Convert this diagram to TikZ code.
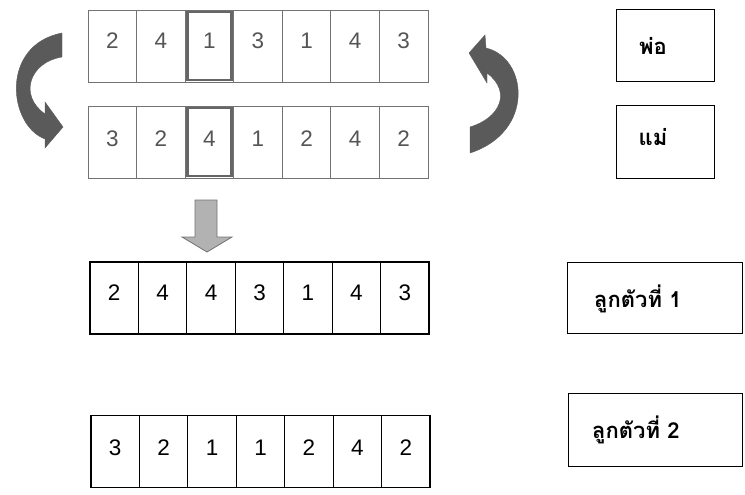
\documentclass[tikz,border=0pt]{standalone}
\usepackage{fontspec}
\setmainfont{Liberation Sans}
\newfontfamily\thaifont[Script=Thai]{Loma}
\definecolor{pgray}{HTML}{555555}
\definecolor{agray}{HTML}{5A5A5A}
\begin{document}
\begin{tikzpicture}[x=1pt,y=-1pt,
  pcell/.style={draw=black!55, line width=0.8pt, minimum width=48.57pt, minimum height=72pt, inner sep=0pt,
    text=pgray, font=\fontsize{22.5}{26}\selectfont},
  ccell/.style={draw=black, line width=1.2pt, minimum width=48.43pt, minimum height=72pt, inner sep=0pt,
    text=black, font=\fontsize{22.5}{26}\selectfont},
  hl/.style={draw=black!60, line width=2.6pt, minimum width=44pt, minimum height=68pt, inner sep=0pt},
  lbox/.style={draw=black, line width=1pt, inner sep=0pt},
  lab/.style={font=\thaifont\bfseries\fontsize{22}{26}\selectfont, inner sep=0pt},
  curv/.style={fill=agray, draw=agray, line width=0.4pt}
]
\useasboundingbox (0,0) rectangle (745,495);

% parent rows
\foreach \d [count=\i] in {2,4,1,3,1,4,3}
  \node[pcell] (a\i) at ({88+48.57*(\i-0.5)},46) {\raisebox{10pt}{\d}};
\foreach \d [count=\i] in {3,2,4,1,2,4,2}
  \node[pcell] (b\i) at ({88+48.57*(\i-0.5)},142) {\raisebox{7pt}{\d}};
\node[hl] (ha) at (a3) {};
\node[hl] (hb) at (b3) {};

% child rows
\foreach \d [count=\i] in {2,4,4,3,1,4,3}
  \node[ccell] (c\i) at ({90+48.43*(\i-0.5)},298) {\raisebox{10pt}{\d}};
\foreach \d [count=\i] in {3,2,1,1,2,4,2}
  \node[ccell] (d\i) at ({91+48.43*(\i-0.5)},451.5) {\raisebox{8pt}{\d}};

% label boxes
\node[lbox, minimum width=98pt, minimum height=72pt] (pf) at (665,46) {};
\node[lbox, minimum width=98pt, minimum height=72pt] (pm) at (665,142) {};
\node[lbox, minimum width=175pt, minimum height=71pt] (k1) at (654.5,297.5) {};
\node[lbox, minimum width=174pt, minimum height=73pt] (k2) at (655,429.5) {};
\node[lab] (tf) at (653,46) {พ่อ};
\node[lab] (tm) at (653,137) {แม่};
\node[lab] (t1) at (638,299) {ลูกตัวที่ 1};
\node[lab] (t2) at (636,430) {ลูกตัวที่ 2};

% down block arrow
\draw[draw=black!55, fill=black!30, line width=0.8pt]
  (195,200) -- (217,200) -- (217,237) -- (232,237) -- (207,252) -- (182,237) -- (195,237) -- cycle;

% left curved arrow
\path[curv] (62,33) -- (62,57)
  .. controls (30,62) and (18,95) .. (45,114)
  -- (45,102) -- (63,127) -- (45,148) -- (45,139)
  .. controls (8,125) and (0,45) .. (62,33) -- cycle;

% right curved arrow
\path[curv] (470,127)
  .. controls (500,118) and (512,92) .. (487,73)
  -- (487,83) -- (469,53) -- (485,35) -- (486,48)
  .. controls (528,58) and (535,132) .. (470,153) -- cycle;
\end{tikzpicture}
\end{document}
